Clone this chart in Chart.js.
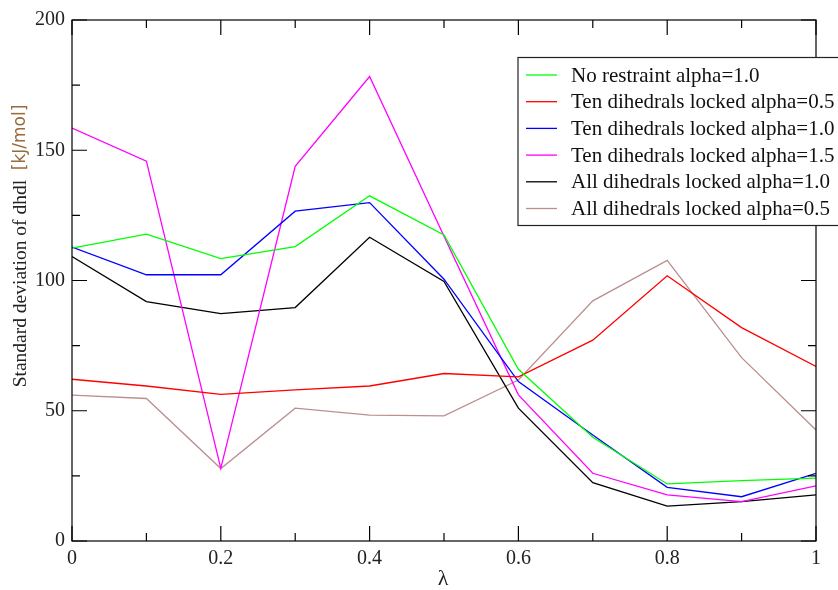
<!DOCTYPE html>
<html>

<head>
    <title>Standard deviation of dhdl</title>
    <style>
        html,
        body {
            margin: 0;
            padding: 0;
            background-color: #fff;
        }

        #wrap {
            width: 838px;
            height: 590px;
        }
    </style>
</head>

<body>
    <div id="wrap"><canvas id="chart"></canvas></div>
    <script src="https://cdn.jsdelivr.net/npm/chart.js"></script>
    <script>
        const lambdas = [0, 0.1, 0.2, 0.3, 0.4, 0.5, 0.6, 0.7, 0.8, 0.9, 1];

        const seriesNames = [
            'No restraint alpha=1.0',
            'Ten dihedrals locked alpha=0.5',
            'Ten dihedrals locked alpha=1.0',
            'Ten dihedrals locked alpha=1.5',
            'All dihedrals locked alpha=1.0',
            'All dihedrals locked alpha=0.5',
        ];

        const noRestraint10 = [112.4, 117.8, 108.4, 113.0, 132.5, 117.5, 65.9, 39.8, 21.9, 23.2, 24.1];
        const tenLocked05 = [62.1, 59.5, 56.3, 58.0, 59.5, 64.3, 63.0, 77.1, 101.8, 81.9, 67.0];
        const tenLocked10 = [112.8, 102.2, 102.2, 126.6, 129.9, 100.5, 61.2, 40.7, 20.6, 17.0, 26.0];
        const tenLocked15 = [158.5, 145.8, 27.9, 143.8, 178.3, 117.0, 56.1, 26.0, 17.7, 15.1, 21.2];
        const allLocked10 = [109.2, 91.9, 87.3, 89.6, 116.6, 99.6, 51.0, 22.4, 13.4, 15.1, 17.7];
        const allLocked05 = [56.0, 54.7, 27.8, 51.0, 48.3, 48.0, 61.8, 92.2, 107.7, 70.4, 42.6];

        const xTicks = [0, 0.2, 0.4, 0.6, 0.8, 1];
        const xMinorTicks = [0.1, 0.3, 0.5, 0.7, 0.9];
        const yTicks = [0, 50, 100, 150, 200];
        const yMinorTicks = [25, 75, 125, 175];

        const colors = ['#00ff00', '#ff0000', '#0000ff', '#ff00ff', '#000000', '#bc8f8f'];
        const serif = '"Liberation Serif", "DejaVu Serif", serif';
        const sans = '"DejaVu Sans", sans-serif';

        const allSeries = [noRestraint10, tenLocked05, tenLocked10, tenLocked15, allLocked10, allLocked05];

        const datasets = allSeries.map((values, i) => ({
            label: seriesNames[i],
            data: values.map((y, j) => ({ x: lambdas[j], y })),
            borderColor: colors[i],
            backgroundColor: colors[i],
            borderWidth: 1.3,
            pointRadius: 0,
            tension: 0,
            fill: false,
        }));

        // frame, inward ticks on all four sides, axis titles and the boxed legend
        const gracePlot = {
            id: 'gracePlot',
            afterDraw(chart) {
                const { ctx, chartArea: a, scales } = chart;
                const xs = scales.x, ys = scales.y;
                ctx.save();
                ctx.strokeStyle = '#000';
                ctx.lineWidth = 1.2;
                ctx.strokeRect(a.left, a.top, a.right - a.left, a.bottom - a.top);

                ctx.beginPath();
                const xt = (v, len) => {
                    const px = xs.getPixelForValue(v);
                    ctx.moveTo(px, a.bottom); ctx.lineTo(px, a.bottom - len);
                    ctx.moveTo(px, a.top); ctx.lineTo(px, a.top + len);
                };
                const yt = (v, len) => {
                    const py = ys.getPixelForValue(v);
                    ctx.moveTo(a.left, py); ctx.lineTo(a.left + len, py);
                    ctx.moveTo(a.right, py); ctx.lineTo(a.right - len, py);
                };
                xTicks.forEach(v => xt(v, 15));
                xMinorTicks.forEach(v => xt(v, 8));
                yTicks.forEach(v => yt(v, 15));
                yMinorTicks.forEach(v => yt(v, 8));
                ctx.stroke();

                // x title
                ctx.fillStyle = '#222';
                ctx.font = `22px ${serif}`;
                ctx.textAlign = 'center';
                ctx.textBaseline = 'middle';
                ctx.fillText('λ', 443, 579);

                // y title, rotated; the unit is set in a sans face
                ctx.save();
                ctx.translate(21, 246);
                ctx.rotate(-Math.PI / 2);
                const main = 'Standard deviation of dhdl  ';
                const unit = '[kJ/mol]';
                ctx.font = `19.5px ${serif}`;
                const w1 = ctx.measureText(main).width;
                ctx.font = `17px ${sans}`;
                const w2 = ctx.measureText(unit).width;
                const start = -(w1 + w2) / 2;
                ctx.textAlign = 'left';
                ctx.font = `19.5px ${serif}`;
                ctx.fillStyle = '#222';
                ctx.fillText(main, start, 0);
                ctx.font = `17px ${sans}`;
                ctx.fillStyle = '#9a6a3a';
                ctx.fillText(unit, start + w1, 0);
                ctx.restore();

                // legend
                const lx = 518, ly = 57.5, lh = 168;
                ctx.fillStyle = '#fff';
                ctx.fillRect(lx, ly, 340, lh);
                ctx.strokeStyle = '#222';
                ctx.lineWidth = 1.2;
                ctx.strokeRect(lx, ly, 340, lh);
                ctx.font = `21px ${serif}`;
                ctx.textAlign = 'left';
                ctx.textBaseline = 'middle';
                chart.data.datasets.forEach((ds, i) => {
                    const ry = 75 + i * 26.7;
                    ctx.strokeStyle = ds.borderColor;
                    ctx.lineWidth = 1.3;
                    ctx.beginPath();
                    ctx.moveTo(526, ry);
                    ctx.lineTo(557, ry);
                    ctx.stroke();
                    ctx.fillStyle = '#111';
                    ctx.fillText(ds.label, 571, ry + 1);
                });
                ctx.restore();
            }
        };

        new Chart(document.getElementById('chart'), {
            type: 'line',
            data: { datasets },
            options: {
                responsive: true,
                maintainAspectRatio: false,
                animation: false,
                layout: { padding: { top: 20, right: 22, left: 0, bottom: 0 } },
                plugins: {
                    legend: { display: false },
                    tooltip: { enabled: false },
                },
                scales: {
                    x: {
                        type: 'linear',
                        min: 0,
                        max: 1,
                        afterFit(scale) { scale.height = 49; },
                        afterBuildTicks(scale) { scale.ticks = xTicks.map(value => ({ value })); },
                        grid: { drawOnChartArea: false, drawTicks: false },
                        border: { display: false },
                        ticks: {
                            padding: 6,
                            color: '#222',
                            font: { family: serif, size: 20 },
                            maxRotation: 0,
                            callback: (v) => String(v),
                        },
                    },
                    y: {
                        min: 0,
                        max: 200,
                        afterFit(scale) { scale.width = 72; },
                        afterBuildTicks(scale) { scale.ticks = yTicks.map(value => ({ value })); },
                        grid: { drawOnChartArea: false, drawTicks: false },
                        border: { display: false },
                        ticks: {
                            padding: 7,
                            color: '#222',
                            font: { family: serif, size: 20 },
                        },
                    },
                },
            },
            plugins: [gracePlot],
        });
    </script>
</body>

</html>
